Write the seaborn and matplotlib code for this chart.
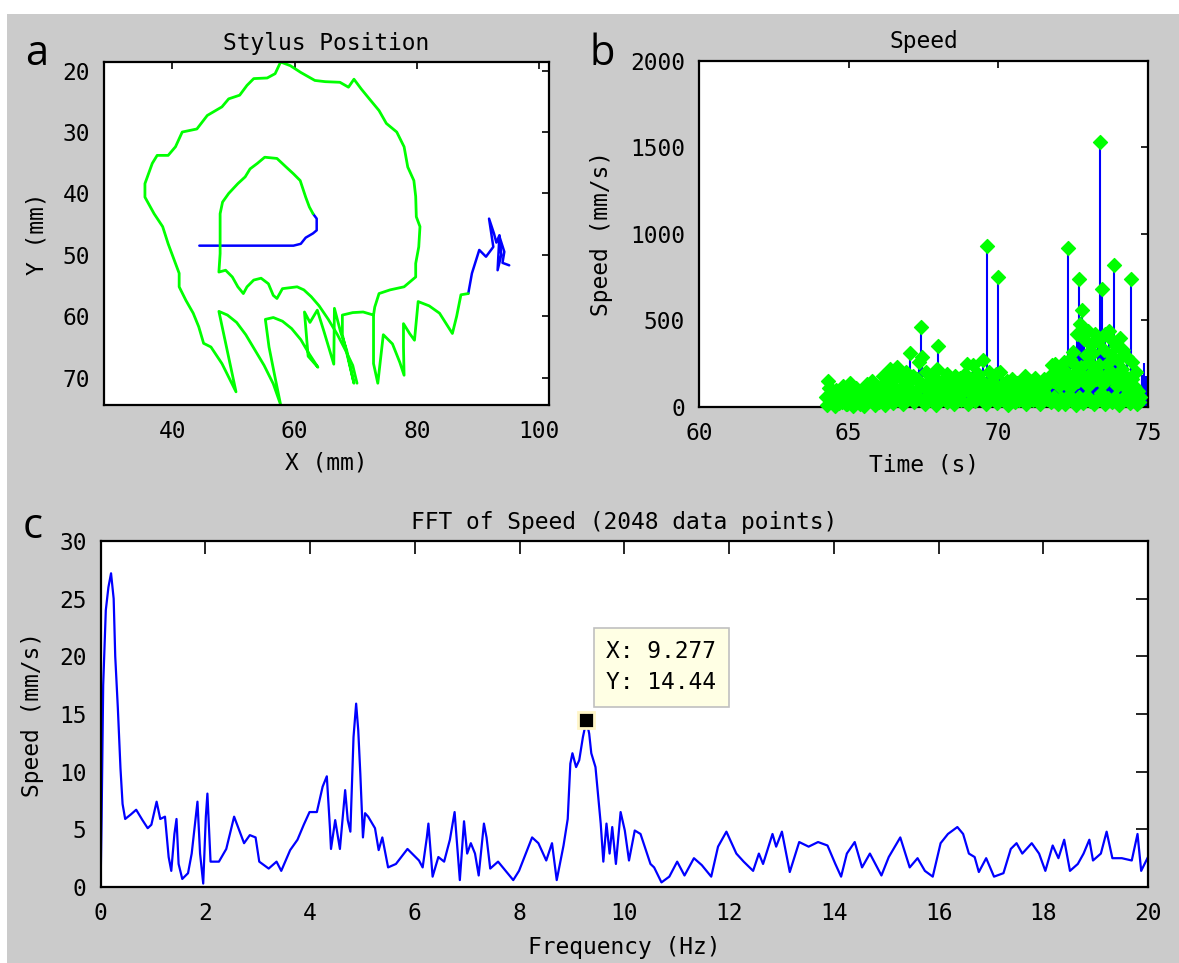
import numpy as np
import pandas as pd
import seaborn as sns
import matplotlib.pyplot as plt
from matplotlib.patches import Rectangle

# ---------------- panel a: stylus position (mm) ----------------
# blue start stroke (pen travelling in)
start_x = [44.4, 50.0, 55.0, 59.8, 61.0, 61.8, 63.0, 63.6, 63.6, 63.0]
start_y = [48.5, 48.5, 48.5, 48.5, 48.2, 47.2, 46.5, 46.0, 44.1, 43.3]

# green inner loop
inner_x = [63.0, 62.4, 61.8, 60.9, 59.8, 58.6, 57.1, 55.1, 53.9, 52.7, 51.9, 50.7, 49.2,
           48.2, 47.8, 47.8, 47.8, 47.6, 48.7, 49.8, 50.7, 51.6, 52.2, 53.3, 54.5, 55.7,
           56.5, 57.1, 58.0, 60.4, 61.5, 62.7, 64.0, 65.5, 67.0, 68.3, 69.5, 70.2]
inner_y = [43.3, 42.2, 40.6, 37.9, 36.8, 35.7, 34.3, 34.1, 35.1, 36.0, 37.3, 38.4, 40.0,
           41.4, 43.3, 46.5, 49.8, 52.8, 52.5, 53.6, 55.2, 56.3, 55.2, 54.1, 53.8, 54.7,
           56.6, 57.1, 55.5, 55.2, 55.7, 56.8, 58.3, 60.5, 63.0, 65.5, 68.0, 70.9]

# green outer loop and the left half of the zig-zags
outer_x = [72.9, 73.1, 73.8, 75.6, 77.9, 79.8, 79.8, 80.3, 80.5, 79.9, 79.8, 79.5, 78.5,
           77.9, 76.7, 75.0, 73.8, 72.3, 70.9, 69.7, 68.8, 67.4, 65.0, 63.3, 61.0, 59.3,
           57.7, 56.8, 55.5, 53.3, 52.2, 51.0, 49.2, 48.1, 45.7, 44.0, 41.6, 40.5, 39.3,
           37.5, 36.7, 35.5, 35.5, 37.0, 38.4, 39.3, 40.5, 41.1, 41.1, 42.2, 43.4, 44.3,
           45.1, 46.3, 48.1, 50.4, 47.6, 49.0, 50.5, 52.0, 53.5, 55.0, 56.5, 57.7, 56.8,
           55.8, 55.2, 56.5, 58.0, 59.5, 61.0, 62.3, 63.8, 62.2, 61.6, 62.5, 63.7, 64.8,
           66.4, 66.5, 67.5, 68.5, 69.7, 67.8, 67.8, 69.5, 71.2, 72.9]
outer_y = [59.8, 58.5, 56.3, 55.7, 55.2, 53.6, 51.4, 48.7, 45.4, 43.8, 40.5, 37.9, 35.7,
           32.4, 30.0, 28.6, 26.5, 24.7, 23.0, 21.4, 22.7, 21.9, 21.8, 21.6, 20.3, 19.2,
           18.6, 20.5, 21.2, 21.3, 22.4, 24.0, 24.6, 25.9, 27.3, 29.5, 30.0, 32.4, 33.8,
           33.8, 35.1, 38.4, 40.6, 43.3, 45.4, 48.2, 51.4, 53.0, 55.2, 57.4, 59.5, 61.7,
           64.4, 65.0, 67.7, 72.3, 59.2, 59.8, 61.0, 63.0, 65.5, 68.0, 71.0, 74.4, 70.0,
           65.0, 60.5, 60.2, 60.8, 62.0, 63.8, 66.0, 68.3, 66.5, 59.3, 61.0, 59.0, 62.5,
           67.8, 58.7, 62.5, 65.5, 70.9, 63.0, 59.8, 59.4, 59.3, 59.8]

# green right-hand zig-zags
right_x = [72.9, 72.9, 72.9, 73.6, 74.5, 76.0, 77.2, 77.9, 77.8, 77.8, 78.8, 79.6, 80.2,
           82.0, 83.7, 85.8, 86.5, 87.2, 88.4]
right_y = [59.8, 63.5, 67.7, 70.9, 63.0, 64.5, 67.5, 69.6, 65.0, 61.2, 62.8, 63.9, 57.6,
           58.3, 59.5, 62.8, 60.0, 56.5, 56.3]

# blue tail (pen lifted, hovering)
tail_x = [88.4, 89.0, 90.2, 91.3, 92.5, 91.8, 92.6, 93.0, 93.5, 93.2, 93.8, 93.5, 94.3, 94.0, 95.1]
tail_y = [56.3, 53.0, 49.2, 50.3, 48.7, 44.1, 46.5, 48.0, 46.8, 52.5, 50.0, 47.0, 49.5, 51.3, 51.7]

# ---------------- panel b: speed (mm/s) vs time (s) ----------------
time_s = [64.25, 64.30, 64.35, 64.40, 64.46, 64.52, 64.58, 64.64, 64.70, 64.76,
          64.82, 64.88, 64.94, 65.00, 65.06, 65.12, 65.18, 65.24, 65.30, 65.36,
          65.42, 65.48, 65.54, 65.60, 65.66, 65.72, 65.78, 65.84, 65.90, 65.96,
          66.02, 66.08, 66.14, 66.20, 66.26, 66.32, 66.38, 66.44, 66.50, 66.56,
          66.62, 66.68, 66.74, 66.80, 66.86, 66.92, 66.98, 67.04, 67.10, 67.16,
          67.22, 67.28, 67.34, 67.40, 67.46, 67.52, 67.58, 67.64, 67.70, 67.76,
          67.82, 67.88, 67.94, 68.00, 68.06, 68.12, 68.18, 68.24, 68.30, 68.36,
          68.42, 68.48, 68.54, 68.60, 68.66, 68.72, 68.78, 68.84, 68.90, 68.96,
          69.02, 69.08, 69.14, 69.20, 69.26, 69.32, 69.38, 69.44, 69.50, 69.56,
          69.62, 69.68, 69.74, 69.80, 69.86, 69.92, 69.98, 70.04, 70.10, 70.16,
          70.22, 70.28, 70.34, 70.40, 70.46, 70.52, 70.58, 70.64, 70.70, 70.76,
          70.82, 70.88, 70.94, 71.00, 71.06, 71.12, 71.18, 71.24, 71.30, 71.36,
          71.42, 71.48, 71.54, 71.60, 71.66, 71.72, 71.78, 71.84, 71.90, 71.96,
          72.02, 72.08, 72.14, 72.20, 72.26, 72.32, 72.38, 72.44, 72.50, 72.56,
          72.62, 72.68, 72.74, 72.80, 72.86, 72.92, 72.98, 73.04, 73.10, 73.16,
          73.22, 73.28, 73.34, 73.40, 73.46, 73.52, 73.58, 73.64, 73.70, 73.76,
          73.82, 73.88, 73.94, 74.00, 74.06, 74.12, 74.18, 74.24, 74.30, 74.36,
          74.42, 74.48, 74.54, 74.60, 74.66, 74.72]
speed = [60, 150, 110, 40, 90, 20, 100, 50, 80, 30,
         120, 60, 20, 90, 140, 40, 70, 110, 30, 80,
         50, 100, 20, 130, 60, 90, 150, 40, 110, 70,
         30, 120, 180, 60, 140, 90, 220, 40, 160, 110,
         230, 70, 170, 120, 60, 200, 140, 310, 90, 180,
         50, 160, 260, 460, 290, 120, 200, 70, 150, 100,
         40, 170, 220, 350, 130, 60, 160, 100, 190, 50,
         140, 90, 180, 60, 120, 170, 80, 130, 190, 250,
         100, 160, 240, 70, 140, 190, 90, 150, 270, 120,
         930, 200, 80, 150, 100, 190, 750, 200, 60, 130,
         90, 150, 50, 120, 160, 70, 110, 140, 40, 100,
         130, 180, 60, 110, 150, 80, 120, 170, 50, 110,
         140, 90, 160, 120, 60, 180, 240, 150, 250, 190,
         120, 230, 170, 260, 200, 920, 280, 160, 320, 240,
         420, 740, 480, 560, 390, 300, 440, 260, 360, 310,
         420, 200, 380, 1530, 680, 330, 420, 250, 440, 300,
         380, 820, 350, 270, 400, 220, 330, 180, 290, 150,
         740, 260, 120, 200, 90, 60]
# low-speed samples that fill the bottom of the stem plot
slow_time_s = [64.28, 64.43, 64.55, 64.67, 64.79, 64.91, 65.03, 65.15, 65.27, 65.39,
               65.51, 65.63, 65.75, 65.87, 65.99, 66.11, 66.23, 66.35, 66.47, 66.59,
               66.71, 66.83, 66.95, 67.07, 67.19, 67.31, 67.43, 67.55, 67.67, 67.79,
               67.91, 68.03, 68.15, 68.27, 68.39, 68.51, 68.63, 68.75, 68.87, 68.99,
               69.11, 69.23, 69.35, 69.47, 69.59, 69.71, 69.83, 69.95, 70.07, 70.19,
               70.31, 70.43, 70.55, 70.67, 70.79, 70.91, 71.03, 71.15, 71.27, 71.39,
               71.51, 71.63, 71.75, 71.87, 71.99, 72.11, 72.23, 72.35, 72.47, 72.59,
               72.71, 72.83, 72.95, 73.07, 73.19, 73.31, 73.43, 73.55, 73.67, 73.79,
               73.91, 74.03, 74.15, 74.27, 74.39, 74.51, 74.63, 74.70]
slow_speed = [10, 45, 5, 25, 60, 15, 35, 5, 50, 20,
              8, 40, 65, 12, 30, 55, 10, 70, 25, 45,
              80, 15, 50, 100, 30, 60, 120, 20, 75, 40,
              10, 65, 90, 30, 55, 15, 80, 40, 110, 20,
              70, 35, 100, 50, 15, 120, 60, 25, 90, 40,
              10, 70, 30, 55, 85, 20, 60, 40, 95, 15,
              75, 45, 30, 60, 15, 50, 20, 70, 40, 10,
              55, 25, 65, 35, 15, 45, 80, 20, 50, 30,
              60, 10, 40, 70, 25, 55, 15, 30]
# mid-height samples in the busy last part of the trace
busy_time_s = [72.29, 72.41, 72.53, 72.65, 72.77, 72.89, 73.01, 73.13, 73.25, 73.37,
               73.49, 73.61, 73.73, 73.85, 73.97, 74.09, 74.21, 74.33, 74.45, 74.57,
               74.68]
busy_speed = [140, 110, 190, 150, 230, 170, 120, 200, 160, 240,
              130, 180, 210, 150, 120, 190, 140, 100, 160, 110,
              70]
# last few stems show no marker
tail_time_s = [74.80, 74.88, 74.95]
tail_speed = [185, 255, 180]

# ---------------- panel c: FFT of speed ----------------
freq_hz = [0.00, 0.02, 0.05, 0.10, 0.15, 0.20, 0.25, 0.28, 0.33, 0.38, 0.42, 0.47, 0.58,
           0.68, 0.80, 0.90, 0.97, 1.07, 1.14, 1.23, 1.30, 1.35, 1.41, 1.45, 1.49, 1.56,
           1.67, 1.74, 1.82, 1.85, 1.90, 1.96, 2.01, 2.04, 2.10, 2.26, 2.40, 2.55, 2.74,
           2.85, 2.96, 3.03, 3.21, 3.36, 3.45, 3.62, 3.76, 3.88, 3.99, 4.13, 4.24, 4.32,
           4.38, 4.40, 4.48, 4.57, 4.67, 4.72, 4.77, 4.83, 4.88, 4.92, 4.96, 5.01, 5.05,
           5.11, 5.24, 5.31, 5.38, 5.49, 5.64, 5.86, 6.08, 6.15, 6.23, 6.26, 6.34, 6.45,
           6.56, 6.67, 6.76, 6.82, 6.86, 6.94, 7.00, 7.07, 7.15, 7.22, 7.32, 7.37, 7.44,
           7.59, 7.88, 7.99, 8.24, 8.36, 8.51, 8.62, 8.71, 8.84, 8.92, 8.97, 9.01, 9.08,
           9.14, 9.21, 9.277, 9.33, 9.37, 9.45, 9.51, 9.55, 9.60, 9.66, 9.72, 9.77, 9.84,
           9.93, 10.01, 10.09, 10.20, 10.31, 10.50, 10.57, 10.71, 10.86, 11.01, 11.15,
           11.33, 11.48, 11.66, 11.79, 11.95, 12.14, 12.28, 12.46, 12.57, 12.65, 12.83,
           12.90, 13.01, 13.16, 13.34, 13.52, 13.70, 13.88, 14.03, 14.14, 14.25, 14.40,
           14.54, 14.69, 14.91, 15.05, 15.27, 15.45, 15.60, 15.74, 15.89, 16.04, 16.18,
           16.36, 16.47, 16.58, 16.69, 16.77, 16.91, 17.06, 17.24, 17.38, 17.49, 17.60,
           17.78, 17.92, 18.04, 18.18, 18.29, 18.40, 18.51, 18.66, 18.77, 18.88, 18.95,
           19.10, 19.21, 19.32, 19.50, 19.69, 19.80, 19.87, 20.00]
fft_amp = [0.0, 6.0, 17.5, 24.0, 26.0, 27.2, 25.0, 20.0, 15.5, 10.3, 7.2, 5.9, 6.3,
           6.7, 5.8, 5.1, 5.4, 7.4, 5.9, 6.1, 2.6, 1.4, 4.6, 5.9, 2.0, 0.7,
           1.2, 2.9, 6.2, 7.4, 2.9, 0.3, 6.1, 8.1, 2.2, 2.2, 3.3, 6.1, 3.8,
           4.5, 4.3, 2.2, 1.6, 2.2, 1.4, 3.2, 4.1, 5.4, 6.5, 6.5, 8.7, 9.6,
           5.1, 3.3, 5.8, 3.3, 8.4, 5.8, 4.8, 13.0, 15.9, 13.6, 9.8, 4.3, 6.4,
           6.1, 5.1, 3.2, 4.3, 1.7, 2.0, 3.3, 2.3, 1.7, 4.3, 5.5, 0.9, 2.6,
           2.2, 4.1, 6.5, 2.9, 0.6, 5.7, 2.9, 3.8, 2.9, 1.0, 5.5, 4.3, 1.6,
           2.2, 0.6, 1.4, 4.3, 3.8, 2.3, 3.8, 0.6, 3.6, 5.9, 10.7, 11.6, 10.4,
           11.0, 13.0, 14.44, 13.3, 11.6, 10.4, 7.5, 5.5, 2.2, 5.5, 2.9, 5.2, 2.0,
           6.5, 4.9, 2.3, 4.9, 4.6, 2.0, 1.7, 0.4, 0.9, 2.2, 1.0,
           2.5, 1.9, 0.9, 3.5, 4.8, 2.9, 2.2, 1.4, 2.9, 2.0, 4.6,
           3.5, 4.8, 1.3, 3.9, 3.5, 3.9, 3.6, 2.0, 0.9, 2.9, 3.9,
           1.7, 2.9, 1.0, 2.6, 4.3, 1.7, 2.5, 1.4, 0.9, 3.8, 4.6,
           5.2, 4.6, 2.9, 2.6, 1.3, 2.5, 0.9, 1.2, 3.3, 3.8, 2.9,
           3.8, 2.9, 1.4, 3.6, 2.5, 4.1, 1.4, 2.0, 2.9, 4.1, 2.3,
           2.9, 4.8, 2.5, 2.5, 2.3, 4.6, 1.4, 2.6]
tip_freq = 9.277
tip_amp = 14.44

GREEN = "#00ff00"
BLUE = "#0000ff"
BG = "#cbcbcb"
FS = 16.5


def path_frame(segments):
    rows = []
    for k, (xs, ys) in enumerate(segments):
        for i, (x, y) in enumerate(zip(xs, ys)):
            rows.append({"seg": k, "i": i, "x": x, "y": y})
    return pd.DataFrame(rows)


def style_axes(ax, tick_len):
    ax.set_facecolor("white")
    for sp in ax.spines.values():
        sp.set_visible(True)
        sp.set_color("black")
        sp.set_linewidth(1.6)
    ax.tick_params(direction="in", top=True, right=True, length=tick_len, width=1.2,
                   colors="black", labelsize=FS)
    ax.tick_params(axis="x", pad=11)
    ax.tick_params(axis="y", pad=10)


sns.set_style("white")
plt.rcParams["font.family"] = ["DejaVu Sans Mono"]
plt.rcParams["text.color"] = "black"
plt.rcParams["axes.labelcolor"] = "black"

fig = plt.figure(figsize=(11.79, 9.63), dpi=100)
fig.patch.set_facecolor("white")
fig.patches.append(Rectangle((7 / 1179, 0), 1, 1 - 14 / 963, transform=fig.transFigure,
                             facecolor=BG, edgecolor="none", zorder=-10))

ax_a = fig.add_axes([0.0882, 0.5794, 0.3774, 0.3562])
ax_b = fig.add_axes([0.5929, 0.5774, 0.3808, 0.3593])
ax_c = fig.add_axes([0.0853, 0.0789, 0.8884, 0.3593])

# panel a
blue_df = path_frame([(start_x, start_y), (tail_x, tail_y)])
green_df = path_frame([(inner_x, inner_y), (outer_x, outer_y), (right_x, right_y)])
sns.lineplot(data=blue_df, x="x", y="y", units="seg", estimator=None, sort=False,
             color=BLUE, lw=1.8, ax=ax_a)
sns.lineplot(data=green_df, x="x", y="y", units="seg", estimator=None, sort=False,
             color=GREEN, lw=2.0, ax=ax_a)
ax_a.set_xlim(28.8, 101.6)
ax_a.set_ylim(74.45, 18.6)
ax_a.set_xticks([40, 60, 80, 100])
ax_a.set_yticks([20, 30, 40, 50, 60, 70])
style_axes(ax_a, 5)
ax_a.set_title("Stylus Position", fontsize=FS, pad=9, color="black")
ax_a.set_xlabel("X (mm)", fontsize=FS, labelpad=6)
ax_a.set_ylabel("Y (mm)", fontsize=FS, labelpad=10)

# panel b: stems underneath, diamond heads on top
all_t = time_s + slow_time_s + busy_time_s
all_v = speed + slow_speed + busy_speed
ax_b.vlines(all_t, 0, all_v, color=BLUE, lw=1.5, zorder=2)
ax_b.vlines(tail_time_s, 0, tail_speed, color=BLUE, lw=1.5, zorder=2)
sns.scatterplot(x=all_t, y=all_v, marker="D", s=50, color=GREEN, edgecolor=GREEN,
                linewidth=1.0, clip_on=False, zorder=3, ax=ax_b)
ax_b.set_xlim(60, 75)
ax_b.set_ylim(0, 2000)
ax_b.set_xticks([60, 65, 70, 75])
ax_b.set_yticks([0, 500, 1000, 1500, 2000])
style_axes(ax_b, 5)
ax_b.set_title("Speed", fontsize=FS, pad=9, color="black")
ax_b.set_xlabel("Time (s)", fontsize=FS, labelpad=6)
ax_b.set_ylabel("Speed (mm/s)", fontsize=FS, labelpad=12)

# panel c
sns.lineplot(x=freq_hz, y=fft_amp, estimator=None, sort=False, color=BLUE, lw=1.6, ax=ax_c)
ax_c.set_xlim(0, 20)
ax_c.set_ylim(0, 30)
ax_c.set_xticks(np.arange(0, 21, 2))
ax_c.set_yticks(np.arange(0, 31, 5))
style_axes(ax_c, 9)
ax_c.set_title("FFT of Speed (2048 data points)", fontsize=FS, pad=9, color="black")
ax_c.set_xlabel("Frequency (Hz)", fontsize=FS, labelpad=8)
ax_c.set_ylabel("Speed (mm/s)", fontsize=FS, labelpad=11)

# data tip
ax_c.plot([tip_freq], [tip_amp], marker="s", ms=11, color="black",
          mec="#fff6c8", mew=2.0, zorder=5)
ax_c.annotate(f"X: {tip_freq}\nY: {tip_amp}", xy=(tip_freq, tip_amp),
              xytext=(20, 26), textcoords="offset pixels", ha="left", va="bottom",
              fontsize=FS, linespacing=1.45, color="black", zorder=6,
              bbox=dict(boxstyle="square,pad=0.55", facecolor="#ffffe4",
                        edgecolor="#c0c0c0", linewidth=1.2))

# panel letters
for label, x, y in [("a", 0.021, 0.9325), ("b", 0.500, 0.9325), ("c", 0.019, 0.4413)]:
    fig.text(x, y, label, fontsize=30, family=["Open Sans", "DejaVu Sans"],
             color="black", ha="left", va="baseline")

fig.savefig("out.png", dpi=100, facecolor=fig.get_facecolor())
